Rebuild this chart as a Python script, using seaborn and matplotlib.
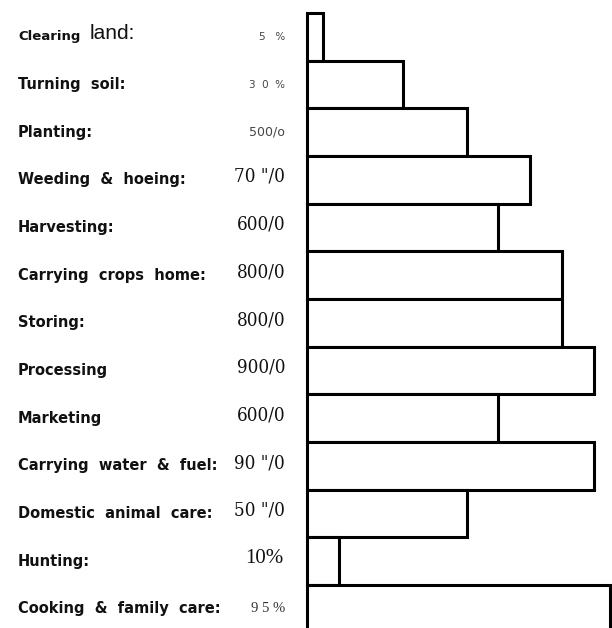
import matplotlib
matplotlib.use("Agg")
import matplotlib.pyplot as plt
import matplotlib.transforms as mtransforms
from matplotlib import font_manager
import seaborn as sns

tasks = ["Clearing land:", "Turning soil:", "Planting:", "Weeding & hoeing:", "Harvesting:",
         "Carrying crops home:", "Storing:", "Processing", "Marketing",
         "Carrying water & fuel:", "Domestic animal care:", "Hunting:", "Cooking & family care:"]
shares = [5, 30, 50, 70, 60, 80, 80, 90, 60, 90, 50, 10, 95]
# labels as printed (scanned text)
label_text = ["Clearing", "Turning  soil:", "Planting:", "Weeding  &  hoeing:", "Harvesting:",
              "Carrying  crops  home:", "Storing:", "Processing", "Marketing",
              "Carrying  water  &  fuel:", "Domestic  animal  care:", "Hunting:",
              "Cooking  &  family  care:"]
pct_text = ["5   %", "3  0  %", "500/o", '70 "/0', "600/0", "800/0", "800/0", "900/0",
            "600/0", '90 "/0', '50 "/0', "10%", "9 5 %"]
# style of each percentage label: small sans, condensed serif, serif
pct_kind = ["small", "small", "small", "cond", "cond", "cond", "cond", "cond",
            "cond", "cond", "cond", "serif", "serif_small"]

# look for a narrow font file for the squeezed percentage labels
cond_fp = None
files = sorted(f.fname for f in font_manager.fontManager.ttflist)
for key in ["SerifCondensed.", "SerifCondensed-", "SansNarrow-Regular", "SansCondensed."]:
    hits = [p for p in files if key in p.replace(" ", "")]
    if hits:
        cond_fp = font_manager.FontProperties(fname=hits[0])
        break
if cond_fp is None:
    cond_fp = font_manager.FontProperties(family="Liberation Serif")

sns.set_style("white")
plt.rcParams["font.family"] = ["DejaVu Sans"]

fig = plt.figure(figsize=(6.12, 6.28), dpi=100)
ax = fig.add_axes([307 / 612, 0, 305 / 612, 615 / 628])

df = {"task": tasks, "share": shares}
sns.barplot(data=df, x="share", y="task", orient="h", width=1.0, color="white",
            edgecolor="black", linewidth=2.2, ax=ax)
for p in ax.patches:
    p.set_facecolor("white")
    p.set_clip_on(False)

ax.set_xlim(0, 95.6)
ax.set_ylim(12.4, -0.5)
ax.set_xlabel("")
ax.set_ylabel("")
ax.set_xticks([])
ax.set_yticks([])
for s in ax.spines.values():
    s.set_visible(False)

trans = mtransforms.blended_transform_factory(fig.transFigure, ax.transData)
for i, txt in enumerate(label_text):
    ax.text(18 / 612, i, txt, transform=trans, ha="left", va="center",
            fontsize=9.5 if i == 0 else 10.5, fontweight="bold", color="#111111")
ax.text(90 / 612, 0 - 0.06, "land:", transform=trans, ha="left", va="center",
        fontsize=15, color="#111111", family="Liberation Sans")

for i, (txt, kind) in enumerate(zip(pct_text, pct_kind)):
    if kind == "small":
        ax.text(285 / 612, i, txt, transform=trans, ha="right", va="center",
                fontsize=9 if i == 2 else 7.5, color="#444444", family="DejaVu Sans")
    elif kind == "cond":
        fp = cond_fp.copy()
        fp.set_size(13.5)
        ax.text(285 / 612, i - 0.06, txt, transform=trans, ha="right", va="center",
                fontproperties=fp, color="#111111")
    elif kind == "serif":
        ax.text(283 / 612, i - 0.05, txt, transform=trans, ha="right", va="center",
                fontsize=15, color="#111111", family="Liberation Serif")
    else:
        ax.text(285 / 612, i, txt, transform=trans, ha="right", va="center",
                fontsize=10.5, color="#333333", family="Liberation Serif")

fig.savefig("out.png", dpi=100)
